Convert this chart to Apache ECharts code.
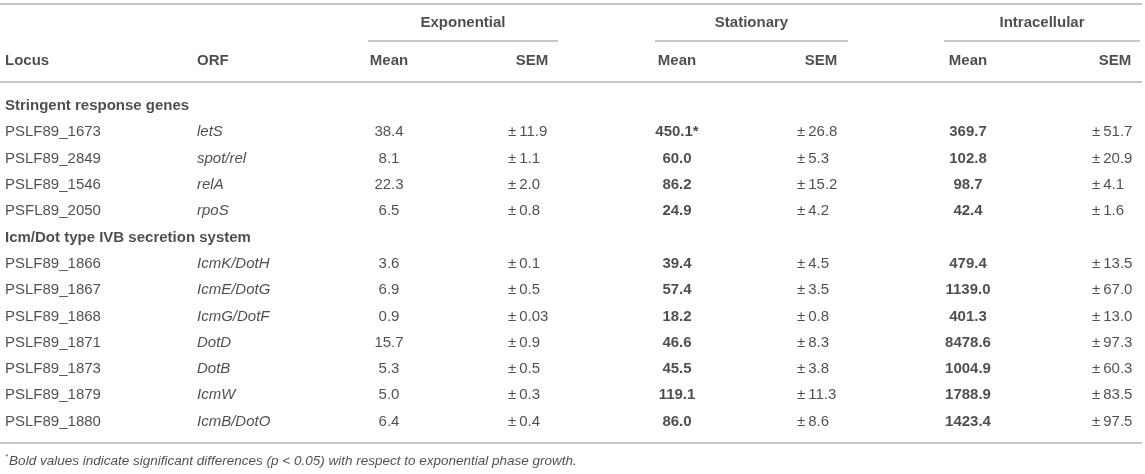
<!DOCTYPE html>
<html>
<head>
<meta charset="utf-8">
<script src="https://cdn.jsdelivr.net/npm/echarts@6/dist/echarts.min.js"></script>
<style>
html,body{margin:0;padding:0;background:#fff;}
#chart{width:1145px;height:474px;}
</style>
</head>
<body>
<div id="chart"></div>
<script>
// ---- data ----
const groupTitles = ['Stringent response genes', 'Icm/Dot type IVB secretion system'];
const groupSizes = [4, 7];
const locus = ['PSLF89_1673','PSLF89_2849','PSLF89_1546','PSFL89_2050','PSLF89_1866','PSLF89_1867','PSLF89_1868','PSLF89_1871','PSLF89_1873','PSLF89_1879','PSLF89_1880'];
const orf = ['letS','spot/rel','relA','rpoS','IcmK/DotH','IcmE/DotG','IcmG/DotF','DotD','DotB','IcmW','IcmB/DotO'];
const expMean = [38.4, 8.1, 22.3, 6.5, 3.6, 6.9, 0.9, 15.7, 5.3, 5.0, 6.4];
const expSEM = [11.9, 1.1, 2.0, 0.8, 0.1, 0.5, 0.03, 0.9, 0.5, 0.3, 0.4];
const statMean = [450.1, 60.0, 86.2, 24.9, 39.4, 57.4, 18.2, 46.6, 45.5, 119.1, 86.0];
const statNote = ['*','','','','','','','','','',''];
const statSEM = [26.8, 5.3, 15.2, 4.2, 4.5, 3.5, 0.8, 8.3, 3.8, 11.3, 8.6];
const intraMean = [369.7, 102.8, 98.7, 42.4, 479.4, 1139.0, 401.3, 8478.6, 1004.9, 1788.9, 1423.4];
const intraSEM = [51.7, 20.9, 4.1, 1.6, 13.5, 67.0, 13.0, 97.3, 60.3, 83.5, 97.5];
const phases = ['Exponential', 'Stationary', 'Intracellular'];
const headLocus = 'Locus', headOrf = 'ORF', headMean = 'Mean', headSem = 'SEM';
const footnote = 'Bold values indicate significant differences (p < 0.05) with respect to exponential phase growth.';

// ---- layout (positions in the chart's own coordinate space) ----
const W = 1145, H = 474;
const L = {
  locusX: 5, orfX: 197,
  meanX: [389, 677, 968],        // centre of Mean columns
  semHeadX: [532, 821, 1115],    // centre of SEM headers
  semX: [508, 797, 1092],        // left of SEM values
  phaseSpan: [[368, 558], [655, 848], [944, 1140]],
  groupY: 23, underY: 41, subY: 61,
  topRule: 4, headRule: 82, bottomRule: 443,
  bodyY0: 106, rowH: 26.3,
  footY: 461
};
const FONT = '"Liberation Sans", Arial, Helvetica, sans-serif';
const FS = 15;
const TXT = '#231f20';
const RULE = '#b3b3b3';

function fmt(v){ return (Math.round(v*10) === v*10) ? v.toFixed(1) : String(v); }
const PM = '\u00b1\u2009';

const texts = [];
function addText(x, y, str, opt){
  opt = opt || {};
  texts.push({
    value: [x, y],
    label: {
      show: true, position: 'inside', formatter: str,
      align: opt.align || 'left', verticalAlign: 'middle',
      fontSize: opt.size || FS, fontFamily: FONT, color: TXT,
      fontWeight: opt.bold ? 'bold' : 'normal',
      fontStyle: opt.italic ? 'italic' : 'normal',
      rich: opt.rich
    }
  });
}

// header
phases.forEach((p, i) => {
  const c = (L.phaseSpan[i][0] + L.phaseSpan[i][1]) / 2;
  addText(c, L.groupY, p, {align:'center', bold:true});
  addText(L.meanX[i], L.subY, headMean, {align:'center', bold:true});
  addText(L.semHeadX[i], L.subY, headSem, {align:'center', bold:true});
});
addText(L.locusX, L.subY, headLocus, {bold:true});
addText(L.orfX, L.subY, headOrf, {bold:true});

// body
let k = 0, r = 0;
groupTitles.forEach((g, gi) => {
  addText(L.locusX, L.bodyY0 + k*L.rowH, g, {bold:true});
  k++;
  for (let j = 0; j < groupSizes[gi]; j++, r++, k++) {
    const y = L.bodyY0 + k*L.rowH;
    addText(L.locusX, y, locus[r]);
    addText(L.orfX, y, orf[r], {italic:true});
    addText(L.meanX[0], y, fmt(expMean[r]), {align:'center'});
    addText(L.semX[0], y, PM + fmt(expSEM[r]));
    addText(L.meanX[1], y, fmt(statMean[r]) + statNote[r], {align:'center', bold:true});
    addText(L.semX[1], y, PM + fmt(statSEM[r]));
    addText(L.meanX[2], y, fmt(intraMean[r]), {align:'center', bold:true});
    addText(L.semX[2], y, PM + fmt(intraSEM[r]));
  }
});

// footnote
addText(L.locusX, L.footY, '{s|*}{t|' + footnote + '}', {
  rich: {
    s: {fontSize: 8, fontFamily: FONT, color: TXT, fontStyle:'italic', padding:[0,1,9,0]},
    t: {fontSize: 13.5, fontFamily: FONT, color: TXT, fontStyle:'italic'}
  }
});

// rules
const rules = [
  {coords: [[0, L.topRule], [W - 3, L.topRule]]},
  {coords: [[0, L.headRule], [W - 3, L.headRule]]},
  {coords: [[0, L.bottomRule], [W - 3, L.bottomRule]]}
];
L.phaseSpan.forEach(s => rules.push({coords: [[s[0], L.underY], [s[1], L.underY]]}));

const chart = echarts.init(document.getElementById('chart'), null, {renderer: 'canvas'});
chart.setOption({
  animation: false,
  backgroundColor: '#ffffff',
  grid: {left: 0, right: 0, top: 0, bottom: 0},
  xAxis: {type: 'value', min: 0, max: W, show: false},
  yAxis: {type: 'value', min: 0, max: H, inverse: true, show: false},
  series: [
    {
      type: 'lines', coordinateSystem: 'cartesian2d', silent: true,
      lineStyle: {color: RULE, width: 1.5, opacity: 1},
      data: rules
    },
    {
      type: 'scatter', symbolSize: 1, silent: true,
      itemStyle: {color: 'rgba(0,0,0,0)'},
      data: texts
    }
  ]
});
</script>
</body>
</html>
